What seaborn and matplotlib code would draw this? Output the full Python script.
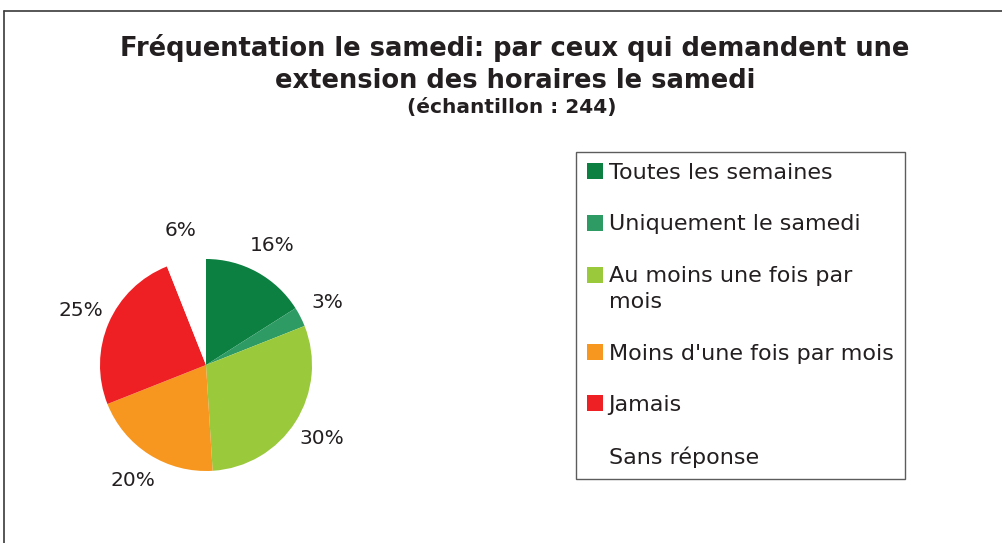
import matplotlib
matplotlib.use("Agg")
import matplotlib.pyplot as plt
import seaborn as sns
from matplotlib.patches import Patch
from matplotlib.lines import Line2D
from matplotlib.legend_handler import HandlerPatch

# Data
categories = ["Toutes les semaines", "Uniquement le samedi", "Au moins une fois par\nmois",
              "Moins d'une fois par mois", "Jamais", "Sans réponse"]
shares = [16, 3, 30, 20, 25, 6]
colors = ["#0b8040", "#2e9b65", "#9ac93c", "#f7971f", "#ee2024", "#ffffff"]

title = "Fréquentation le samedi: par ceux qui demandent une\nextension des horaires le samedi"
subtitle = "(échantillon : 244)"

sns.set_theme(style="white")
plt.rcParams["font.family"] = ["DejaVu Sans"]
text_color = "#231f20"


class HandlerShifted(HandlerPatch):
    # keeps the legend square level with the first line of a two-line label
    def __init__(self, shift=0, **kw):
        super().__init__(**kw)
        self.shift = shift

    def _create_patch(self, legend, orig_handle, xdescent, ydescent, width, height, fontsize):
        p = super()._create_patch(legend, orig_handle, xdescent, ydescent, width, height, fontsize)
        p.set_y(p.get_y() + self.shift)
        return p


fig = plt.figure(figsize=(10.02, 5.43), dpi=100)
fig.patch.set_facecolor("white")

# pie axes: centre ~ (206, 365) px, radius ~ 106 px
W, H = 1002, 543
cx, cy, r = 206, 365, 106
ax = fig.add_axes([(cx - r) / W, (H - cy - r) / H, 2 * r / W, 2 * r / H])
wedges, _, autotexts = ax.pie(shares, colors=sns.color_palette(colors), startangle=90,
                              counterclock=False, autopct="%.0f%%", pctdistance=1.29,
                              wedgeprops=dict(linewidth=0),
                              textprops=dict(fontsize=14.5, color=text_color))
ax.set_xlim(-1, 1)
ax.set_ylim(-1, 1)
ax.set_aspect("equal")

# title
fig.text(0.514, 1 - 63.5 / H, title, ha="center", va="center", fontsize=18.5, fontweight="bold",
         color=text_color, linespacing=1.3)
fig.text(0.511, 1 - 108 / H, subtitle, ha="center", va="center", fontsize=14.5, fontweight="bold",
         color=text_color)

# legend
handles = [Patch(facecolor=c, edgecolor="none") for c in colors]
handler_map = {handles[2]: HandlerShifted(shift=10.5)}
leg = fig.legend(handles, categories, loc="upper left", bbox_to_anchor=(576 / W, 1 - 152 / H),
                 borderaxespad=0, frameon=True, fancybox=False, fontsize=16,
                 handlelength=0.72, handleheight=0.72, handletextpad=0.25,
                 labelspacing=1.41, borderpad=0.5, handler_map=handler_map)
leg.get_frame().set_edgecolor("#333333")
leg.get_frame().set_linewidth(1.0)
for t in leg.get_texts():
    t.set_color(text_color)
leg.get_texts()[2].set_linespacing(1.4)

# chart border (left and top edges)
fig.add_artist(Line2D([4 / W, 4 / W], [0, 1 - 11 / H], transform=fig.transFigure,
                      color="#3a3a3a", lw=1.2))
fig.add_artist(Line2D([4 / W, 1], [1 - 11 / H, 1 - 11 / H], transform=fig.transFigure,
                      color="#3a3a3a", lw=1.2))

fig.savefig("out.png", dpi=100, facecolor="white")
